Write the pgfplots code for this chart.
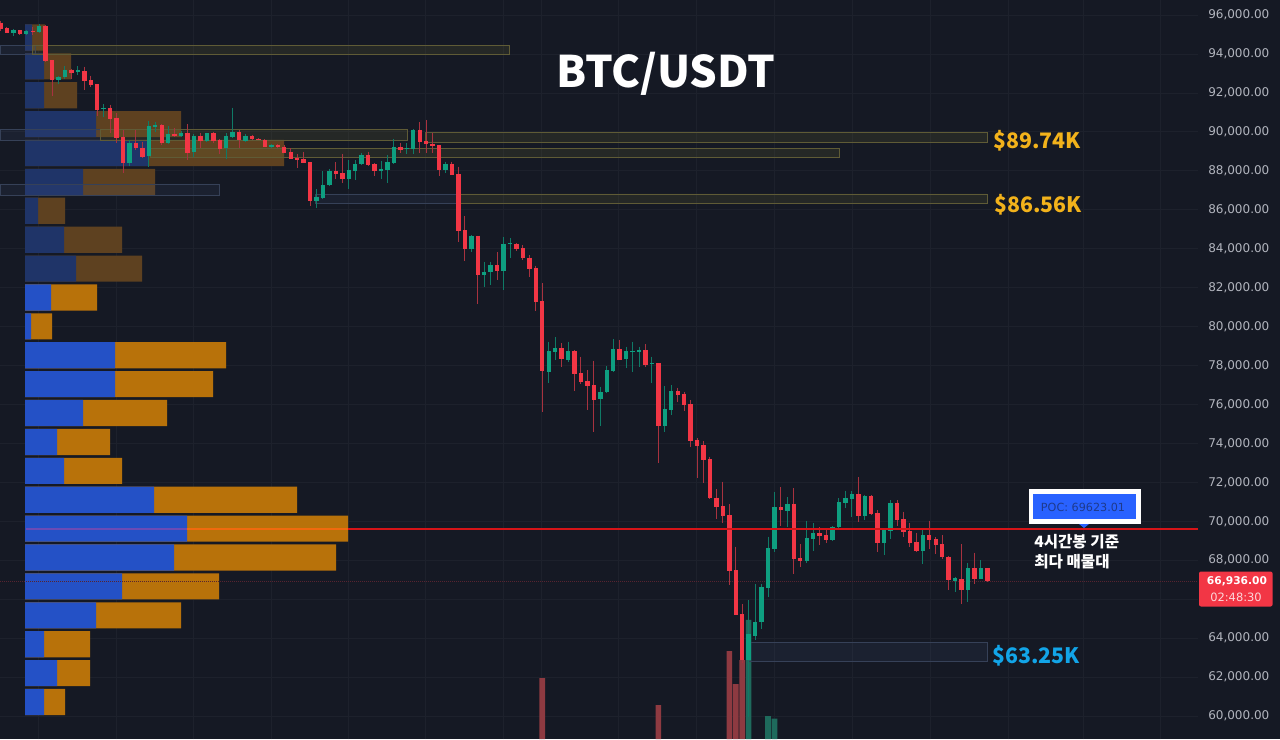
\documentclass[border=0pt]{standalone}
\usepackage{pgfplots}
\usepackage{pgfplotstable}
\usepackage{fontspec}
\pgfplotsset{compat=1.18}
\setmainfont{Noto Sans CJK KR}
\newfontfamily\tickfont{DejaVu Sans}
\definecolor{bg}{HTML}{151924}
\definecolor{gridc}{HTML}{1D212C}
\definecolor{upc}{HTML}{0E9F80}
\definecolor{dnc}{HTML}{F23645}
\definecolor{upw}{HTML}{0F7A66}
\definecolor{dnw}{HTML}{A8323F}
\definecolor{vblue}{HTML}{2451C6}
\definecolor{vor}{HTML}{B8720A}
\definecolor{dblue}{HTML}{1F3468}
\definecolor{dor}{HTML}{5E4120}
\definecolor{zy}{HTML}{5F5B36}
\definecolor{zyf}{HTML}{6E6E34}
\definecolor{zb}{HTML}{364158}
\definecolor{zbf}{HTML}{4A5C8A}
\definecolor{voldn}{HTML}{8E3A41}
\definecolor{volup}{HTML}{1E6A5C}
\definecolor{ticktxt}{HTML}{B2B5BE}
% green candles: index, body top, body bottom, high, low
\pgfplotstableread{
i top bot hi lo
2 95233 95096 95267 94942
4 95182 95028 95233 94976
6 95422 95130 95541 95096
9 92836 92665 92871 92460
10 93196 92802 93384 92699
12 93162 93076 93384 92922
16 91244 91176 91433 90748
20 89447 88385 89584 88265
23 90303 88762 90577 88214
24 90371 90234 90508 90012
26 89892 89430 90303 89378
28 89960 89789 90063 89721
30 89806 88950 89875 88693
32 89926 89532 89960 89498
35 89789 89156 89926 88591
36 89994 89721 91244 89669
38 89789 89549 89892 89498
42 89344 89207 89378 89156
49 86673 86451 87050 86091
50 87272 86622 87991 86536
51 88009 87255 88077 87221
54 88043 87598 88556 87050
55 88351 87991 88556 87529
56 88813 88351 88933 88300
59 88077 87974 88522 87563
60 88437 88043 88813 87358
61 89241 88385 89618 88351
63 89156 89104 89412 88865
64 90097 89121 90131 88847
69 88368 88043 88471 87906
73 84653 83968 84704 83848
75 82821 82650 83335 82051
76 83164 82804 83335 82137
78 84259 82856 84619 81880
79 84277 84225 84533 83506
85 78747 77685 79226 77086
86 78884 78695 79449 78285
88 78747 78302 79226 78199
93 76641 76264 76915 74895
94 77771 76641 77976 76607
95 78850 77737 79363 77685
97 78747 78319 78969 77857
98 78764 78695 79226 77685
99 78798 78695 78969 77942
101 78113 78062 78456 77086
103 75768 74895 76949 74604
104 76710 75734 77001 75460
116 64211 62876 65957 59965
117 64845 64126 66779 63903
118 66625 64827 66779 64451
119 68645 66574 69210 66129
120 70717 68594 71521 68440
122 70905 70546 71230 69724
125 69159 67943 70032 67875
126 69381 69107 69895 68491
129 69690 69039 69758 68971
130 70991 69690 71179 69553
131 71179 70956 71573 70665
132 71402 71128 71573 70203
134 71299 70272 71350 70066
137 69553 68868 69638 68269
138 70956 69518 71093 69073
143 69296 68491 69553 67806
148 67070 66933 67156 66368
150 67584 66471 67841 65838
152 67584 67036 68012 67019
}\upcandles
% red candles: index, body top, body bottom, high, low
\pgfplotstableread{
i top bot hi lo
0 95610 95267 95713 95199
1 95336 95096 95404 95062
3 95216 95011 95233 94994
5 95199 95130 95404 94976
7 95422 93641 95490 93607
8 93675 92665 93675 91861
11 93196 93042 93230 92699
13 93127 92597 93350 92152
14 92648 92391 92888 92289
15 92443 91124 92460 90816
17 91227 90679 91398 89926
18 90731 89703 90953 89412
19 89738 88385 90097 87906
21 89447 89173 90097 89070
22 89190 88728 89498 88676
25 90354 89412 90405 89327
27 89909 89789 90183 89721
29 89960 88933 90405 88556
31 89806 89532 89960 89156
33 89926 89549 90012 89412
34 89584 89121 89618 88865
37 89994 89584 90097 89156
39 89789 89618 89857 89584
40 89635 89601 89669 89584
41 89584 89224 89618 89207
43 89344 89207 89378 89156
44 89241 88933 89310 88899
45 88984 88625 89156 88591
46 88676 88556 88865 88128
47 88608 88419 88984 88385
48 88437 86451 88437 86194
52 88009 87837 88437 87581
53 87872 87598 88865 87358
57 88813 88300 88984 88265
58 88334 87974 88385 87735
62 89241 89070 89447 88933
65 90097 89481 90491 88899
66 89515 89378 90611 88899
67 89395 89275 89926 88899
68 89327 88026 89327 87735
70 88368 87786 88471 87769
71 87837 84910 88214 84362
72 84944 84002 85680 83352
74 84670 82650 84670 81161
77 83164 82856 83814 82393
80 84259 83986 84277 83883
81 84037 83506 84174 83421
82 83540 82958 83677 82565
83 83010 81281 83130 80818
84 81315 77737 82222 75631
87 78884 78319 79141 77942
89 78747 77566 78798 76710
90 77600 77138 78456 77035
91 77189 76949 77771 75717
92 76983 76247 78250 74604
96 78850 78302 79312 78285
100 78798 78028 79106 77908
102 78131 74895 78131 72977
105 76692 76487 76864 76145
106 76555 75973 76658 75682
107 76008 74107 76230 73799
108 74159 73868 74261 72206
109 73918 73148 74124 71949
110 73182 71179 73319 71128
111 71213 70717 71658 70100
112 70768 70289 72035 69929
113 70323 67464 70871 66728
114 67498 65204 68697 65204
115 65238 62876 65735 62705
121 70717 70580 71744 69758
123 70905 68046 71693 67293
124 68097 67943 68834 67635
127 69381 69244 69690 68782
128 69296 69039 69638 68868
133 71402 70272 72258 69981
135 71299 70374 71350 70323
136 70426 68885 70580 68440
139 70956 70066 71093 69758
140 70118 69467 70494 69176
141 69518 68868 69895 68662
142 68936 68474 69416 68440
144 69296 69039 70032 68560
145 69073 68765 69176 68320
146 68834 68149 69279 68080
147 68183 66985 68217 66471
149 67019 66471 68834 65752
151 67584 67036 68388 66779
153 67584 66936 67584 66900
}\downcandles
% volume profile: price level, buy part, total (dim rows above 82000)
\pgfplotstableread{
p blue total
60719 19 40
62203 32 65
63687 19 65
65171 71 156
66655 97 194
68139 149 311
69623 162 323
71107 129 272
72591 39 97
74075 32 85
75559 58 142
77043 90 188
78527 90 201
80011 6 27
81495 26 72
}\vpfull
\pgfplotstableread{
p blue total
82979 51 117
84463 39 97
85947 13 40
87431 58 130
88915 123 259
90399 71 156
91883 19 52
93367 19 46
94851 7 20
}\vpdim
\pgfplotstableread{
i v
84 61952
102 60565
113 63338
114 61643
115 62876
}\voldown
\pgfplotstableread{
i v
116 64931
119 60000
120 59866
}\volupt
\begin{document}
\begin{tikzpicture}
\path[use as bounding box] (0,0) rectangle (960pt,554.25pt);
\fill[bg] (0,0) rectangle (960pt,554.25pt);
\begin{axis}[
  at={(0,0)}, anchor=south west, scale only axis,
  width=898.5pt, height=554.25pt,
  xmin=-25, xmax=1173, ymin=58819, ymax=96774,
  axis line style={draw=none},
  major tick length=0pt,
  xtick={13,91,168,246,323,400,478,516,593,671,749,827,905,983,1058,1135},
  xticklabels={},
  ytick={60000,62000,64000,68000,70000,72000,74000,76000,78000,80000,82000,84000,86000,88000,90000,92000,94000,96000},
  extra y ticks={66000},
  extra y tick labels={},
  grid=major,
  grid style={gridc,line width=0.6pt},
  ticklabel pos=right,
  scaled y ticks=false,
  tick label style={font=\tickfont\fontsize{9}{10}\selectfont,text=ticktxt},
  yticklabel style={/pgf/number format/.cd,fixed,fixed zerofill,precision=2,1000 sep={,},assume math mode=true},
  tick label style={inner sep=0pt},
  ytick pos=right,
  tickwidth=0pt,
  yticklabel shift=7.5pt,
]
% volume profile
\addplot[xbar,bar width=19.6pt,bar shift=0pt,draw=none,fill=dor,forget plot] table[x=total,y=p]{\vpdim};
\addplot[xbar,bar width=19.6pt,bar shift=0pt,draw=none,fill=dblue,forget plot] table[x=blue,y=p]{\vpdim};
\addplot[xbar,bar width=19.6pt,bar shift=0pt,draw=none,fill=vor,forget plot] table[x=total,y=p]{\vpfull};
\addplot[xbar,bar width=19.6pt,bar shift=0pt,draw=none,fill=vblue,forget plot] table[x=blue,y=p]{\vpfull};
% volume columns
\addplot[ybar,bar width=4.2pt,bar shift=0pt,draw=none,fill=voldn,forget plot] table[x expr=6.45*\thisrow{i}-24.55,y=v]{\voldown};
\addplot[ybar,bar width=4.2pt,bar shift=0pt,draw=none,fill=volup,forget plot] table[x expr=6.45*\thisrow{i}-24.55,y=v]{\volupt};
% zones
\addplot[draw=zb,fill=zbf,fill opacity=.12,line width=.6pt] coordinates {(-25,94427) (10,94427) (10,93985) (-25,93985) (-25,94427)};
\addplot[draw=zy,fill=zyf,fill opacity=.18,line width=.6pt] coordinates {(7,94427) (484,94427) (484,93985) (7,93985) (7,94427)};
\addplot[draw=zb,fill=zbf,fill opacity=.12,line width=.6pt] coordinates {(-25,90148) (75,90148) (75,89583) (-25,89583) (-25,90148)};
\addplot[draw=zy,fill=zyf,fill opacity=.18,line width=.6pt] coordinates {(75,90148) (382,90148) (382,89583) (75,89583) (75,90148)};
\addplot[draw=zy,fill=zyf,fill opacity=.18,line width=.6pt] coordinates {(400,89979) (962,89979) (962,89465) (400,89465) (400,89979)};
\addplot[draw=zy,fill=zyf,fill opacity=.18,line width=.6pt] coordinates {(125,89172) (814,89172) (814,88695) (125,88695) (125,89172)};
\addplot[draw=zb,fill=zbf,fill opacity=.12,line width=.6pt] coordinates {(-25,87324) (194,87324) (194,86759) (-25,86759) (-25,87324)};
\addplot[draw=zb,fill=zbf,fill opacity=.12,line width=.6pt] coordinates {(290,86810) (432,86810) (432,86332) (290,86332) (290,86810)};
\addplot[draw=zy,fill=zyf,fill opacity=.18,line width=.6pt] coordinates {(432,86810) (962,86810) (962,86332) (432,86332) (432,86810)};
\addplot[draw=zb,fill=zbf,fill opacity=.12,line width=.6pt] coordinates {(723,63785) (962,63785) (962,62789) (723,62789) (723,63785)};
% last price line
\addplot[densely dotted,draw=dnw!45!bg,line width=.5pt] coordinates {(-25,66936) (1173,66936)};
% wicks
\addplot[no marks,draw=none,forget plot,error bars/.cd,y dir=minus,y explicit,error mark=none,error bar style={line width=.75pt,draw=upw}]
 table[x expr=6.45*\thisrow{i}-24.55,y=hi,y error minus expr=\thisrow{hi}-\thisrow{lo}]{\upcandles};
\addplot[no marks,draw=none,forget plot,error bars/.cd,y dir=minus,y explicit,error mark=none,error bar style={line width=.75pt,draw=dnw}]
 table[x expr=6.45*\thisrow{i}-24.55,y=hi,y error minus expr=\thisrow{hi}-\thisrow{lo}]{\downcandles};
% bodies
\addplot[no marks,draw=none,forget plot,error bars/.cd,y dir=minus,y explicit,error mark=none,error bar style={line width=3.3pt,draw=upc}]
 table[x expr=6.45*\thisrow{i}-24.55,y=top,y error minus expr=\thisrow{top}-\thisrow{bot}]{\upcandles};
\addplot[no marks,draw=none,forget plot,error bars/.cd,y dir=minus,y explicit,error mark=none,error bar style={line width=3.3pt,draw=dnc}]
 table[x expr=6.45*\thisrow{i}-24.55,y=top,y error minus expr=\thisrow{top}-\thisrow{bot}]{\downcandles};
% POC line
\addplot[draw={rgb,255:red,107;green,75;blue,181},line width=1.4pt] coordinates {(1,69623) (162,69623)};
\addplot[draw={rgb,255:red,240;green,106;blue,14},line width=1.4pt] coordinates {(162,69623) (323,69623)};
\addplot[draw={rgb,255:red,214;green,20;blue,24},line width=1.5pt] coordinates {(323,69623) (1173,69623)};
\end{axis}
\begin{scope}[x=0.75pt,y=-0.75pt,yshift=554.25pt]
\node[text=white,font=\fontsize{32.6}{36}\selectfont\bfseries] at (666,74) {BTC/USDT};
\definecolor{gold}{HTML}{F2B21B}
\definecolor{sky}{HTML}{12A5E8}
\node[anchor=west,inner sep=0pt,text=gold,font=\fontsize{16}{20}\selectfont\bfseries] at (993,141) {\$89.74K};
\node[anchor=west,inner sep=0pt,text=gold,font=\fontsize{16}{20}\selectfont\bfseries] at (994,205) {\$86.56K};
\node[anchor=west,inner sep=0pt,text=sky,font=\fontsize{16}{20}\selectfont\bfseries] at (992,656) {\$63.25K};
\fill[white] (1028.7,489.5) rectangle (1140.7,524);
\fill[fill={rgb,255:red,41;green,98;blue,255}] (1033,494) rectangle (1136,519);
\fill[fill={rgb,255:red,41;green,98;blue,255}] (1079,524) -- (1089,524) -- (1084,528) -- cycle;
\node[text={rgb,255:red,30;green,58;blue,140},font=\tickfont\fontsize{8.4}{10}\selectfont] at (1083,507) {POC: 69623.01};
\node[anchor=west,inner sep=0pt,text=white,font=\fontsize{11.7}{13}\selectfont\bfseries] at (1034,542) {4시간봉 기준};
\node[anchor=west,inner sep=0pt,text=white,font=\fontsize{11.7}{13}\selectfont\bfseries] at (1034,562) {최다 매물대};
\fill[dnc,rounded corners=1.5pt] (1199,571.5) rectangle (1272.5,606.5);
\node[text=white,font=\tickfont\fontsize{8}{10}\selectfont\bfseries] at (1237,581) {66,936.00};
\node[text=white!80!dnc,font=\tickfont\fontsize{8.6}{10}\selectfont] at (1236,597) {02:48:30};
\end{scope}
\end{tikzpicture}
\end{document}
